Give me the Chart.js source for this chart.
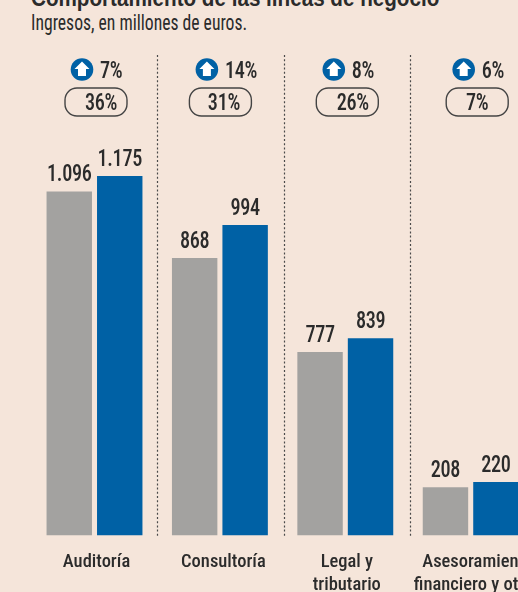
<!DOCTYPE html>
<html><head><meta charset="utf-8">
<style>
html,body{margin:0;padding:0;width:518px;height:592px;overflow:hidden;background:#f5e5da}
#wrap{position:relative;width:518px;height:592px;overflow:hidden}
canvas{position:absolute;left:0;top:0}
.t{position:absolute;left:31px;white-space:nowrap;font-family:"Liberation Sans Narrow","Roboto Condensed",sans-serif;color:#2b2b2b;transform-origin:0 0}
#title{top:-16px;font-weight:700;font-size:24px;font-family:"Liberation Sans",sans-serif;transform:scaleX(.86)}
#sub{top:10px;font-size:21.5px;transform:scaleX(.82)}
</style></head><body>
<div id="wrap">
<div class="t" id="title">Comportamiento de las líneas de negocio</div>
<div class="t" id="sub">Ingresos, en millones de euros.</div>
<canvas id="c" width="560" height="592" style="width:560px;height:592px"></canvas>
</div>
<script src="https://cdn.jsdelivr.net/npm/chart.js@4"></script>
<script>
const categories = [["Auditoría"],["Consultoría"],["Legal y","tributario"],["Asesoramiento","financiero y otros"]];
// Printed figures in the reference
const labelsPrev = ["1.096","868","777","208"];
const labelsCurr = ["1.175","994","839","220"];
// Bar heights as drawn in the reference; its bars are not proportional to the printed figures
const drawnPrev = [1124,907,600,158];
const drawnCurr = [1175,1015,645,175];
const growth = ["7%","14%","8%","6%"];
const share = ["36%","31%","26%","7%"];

const FONT='"Liberation Sans Narrow","Roboto Condensed",sans-serif', INK='#2b2b2b', BLUE='#0061a5';
const iconDx=[-12.5,-13,-11.5,-7], pillDx=[1.5,0.5,2,6.5], shareDx=[5,3.5,5.5,0], sepDx=[0,1.5,1.5], tickDx=[2,3.5,1.5,7];

function squeezed(c,text,x,y,align){
 c.save();
 c.translate(x,y);c.scale(.88,1);
 c.font='500 23px '+FONT;c.textAlign=align;c.textBaseline='middle';c.fillStyle=INK;
 c.letterSpacing='-0.4px';
 c.fillText(text,0,0);
 c.restore();
}

let ticksShifted=false;
const marks={id:'marks',
 beforeDraw(ch){
  if(ticksShifted)return;ticksShifted=true;
  ch.scales.x.getLabelItems().forEach((it,i)=>{it.options.translation[0]+=tickDx[i];});
 },
 afterDatasetsDraw(ch){
 const c=ch.ctx,x=ch.scales.x;
 c.save();
 c.strokeStyle='#4a4a4a';c.lineWidth=1.2;c.setLineDash([2,2.2]);
 for(let i=0;i<3;i++){const sx=Math.round((x.getPixelForValue(i)+x.getPixelForValue(i+1))/2+sepDx[i])+.5;
  c.beginPath();c.moveTo(sx,55);c.lineTo(sx,538);c.stroke();}
 c.setLineDash([]);
 categories.forEach((_,i)=>{
  const cx=x.getPixelForValue(i);
  const ix=cx+iconDx[i];
  c.fillStyle=BLUE;c.beginPath();c.arc(ix,69.5,11.3,0,7);c.fill();
  c.fillStyle='#fff';c.beginPath();
  c.moveTo(ix,61.5);c.lineTo(ix+7.5,69);c.lineTo(ix+4,69);c.lineTo(ix+4,76);c.lineTo(ix-4,76);c.lineTo(ix-4,69);c.lineTo(ix-7.5,69);c.closePath();c.fill();
  squeezed(c,growth[i],ix+18,72,'left');
  const px=cx+pillDx[i];
  c.strokeStyle='#444';c.lineWidth=1.4;c.beginPath();c.roundRect(px-31,88,62,28,12);c.stroke();
  squeezed(c,share[i],px+shareDx[i],104,'center');
  const m0=ch.getDatasetMeta(0).data[i],m1=ch.getDatasetMeta(1).data[i];
  squeezed(c,labelsPrev[i],m0.x,m0.y-16,'center');
  squeezed(c,labelsCurr[i],m1.x,m1.y-16,'center');
 });
 c.restore();
}};

new Chart(document.getElementById('c'),{
 type:'bar',
 data:{labels:categories,datasets:[
  {label:'Anterior',data:drawnPrev,backgroundColor:'#a3a2a0',borderWidth:0},
  {label:'Actual',data:drawnCurr,backgroundColor:BLUE,borderWidth:0}]},
 options:{responsive:false,animation:false,devicePixelRatio:1,
  layout:{padding:{left:31.8,right:26.6,top:107.1,bottom:0}},
  datasets:{bar:{categoryPercentage:.805,barPercentage:.9}},
  plugins:{legend:{display:false},tooltip:{enabled:false}},
  scales:{
   y:{display:false,min:0,max:1400},
   x:{afterFit(s){s.height=56.5},grid:{display:false},border:{display:false},
    ticks:{color:INK,font:{family:FONT,size:18.5,weight:'500',lineHeight:1.24},padding:7.5,maxRotation:0,autoSkip:false}}
  }},
 plugins:[marks]
});
</script>
</body></html>
